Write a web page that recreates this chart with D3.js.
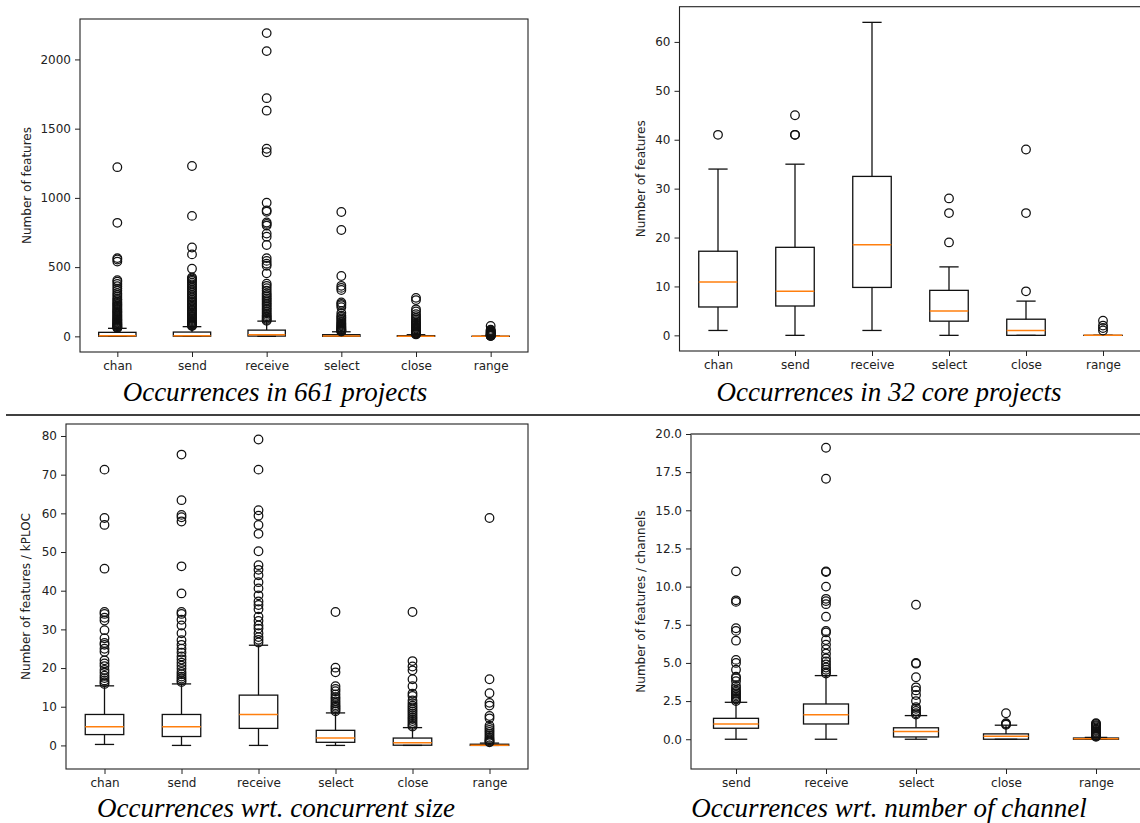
<!DOCTYPE html>
<html><head><meta charset="utf-8">
<script src="https://cdn.jsdelivr.net/npm/d3@7"></script>
<style>body{margin:0;background:#fff}</style>
</head><body><svg id="c" width="1140" height="823"></svg>
<script>
// ---------- DATA ----------
// Panel A: Occurrences in 661 projects
const catsA = ["chan","send","receive","select","close","range"];
const q1A  = [1, 1, 2, 0, 0, 0];
const medA = [5, 5, 12, 2, 0, 0];
const q3A  = [29, 31, 45, 12, 5, 1];
const loA  = [0, 0, 0, 0, 0, 0];
const hiA  = [58, 70, 110, 33, 12, 2];
const outA = [
  [1222, 820, 565, 555, 540, 405, 395, 378, 362, 345, 330, 312, 298, 284, 270, 262, 250, 241, 232, 224, 215, 206, 198, 190, 182, 175, 168, 160, 152, 145, 138, 131, 124, 118, 112, 106, 100, 95, 90, 85, 80, 76, 72, 68, 64, 61],
  [1230, 870, 642, 592, 488, 425, 418, 410, 400, 388, 375, 362, 350, 338, 325, 312, 300, 288, 276, 265, 254, 243, 232, 222, 212, 202, 192, 183, 174, 165, 156, 148, 140, 132, 125, 118, 111, 105, 99, 93, 88, 83, 78, 74],
  [2190, 2060, 1720, 1630, 1355, 1330, 965, 910, 900, 822, 812, 800, 742, 720, 660, 565, 545, 525, 510, 455, 380, 365, 348, 330, 312, 298, 286, 274, 262, 250, 238, 226, 214, 202, 190, 178, 166, 155, 145, 136, 127, 119, 113],
  [898, 768, 436, 365, 350, 335, 245, 235, 225, 210, 168, 150, 140, 130, 120, 110, 100, 92, 85, 78, 72, 66, 60, 55, 50, 46, 42, 38, 35],
  [278, 262, 195, 180, 160, 145, 132, 120, 110, 100, 92, 85, 78, 70, 63, 56, 50, 44, 38, 33, 28, 24, 20, 17, 14],
  [75, 48, 42, 38, 34, 30, 26, 22, 19, 16, 13, 10, 8, 6, 5, 4, 3]
];
const ticksA = [0, 500, 1000, 1500, 2000];

// Panel B: Occurrences in 32 core projects
const catsB = ["chan","send","receive","select","close","range"];
const q1B  = [5.8, 6, 9.8, 2.9, 0, 0];
const medB = [10.9, 9, 18.5, 5, 1, 0];
const q3B  = [17.2, 18, 32.5, 9.2, 3.3, 0];
const loB  = [1, 0, 1, 0, 0, 0];
const hiB  = [34, 35, 64, 14, 7, 0];
const outB = [[41], [45, 41, 41], [], [28, 25, 19], [38, 25, 9], [3, 2, 1.5, 1]];
const ticksB = [0, 10, 20, 30, 40, 50, 60];

// Panel C: Occurrences wrt. concurrent size
const catsC = ["chan","send","receive","select","close","range"];
const q1C  = [2.8, 2.3, 4.4, 0.8, 0.05, 0];
const medC = [4.8, 4.8, 8.0, 1.9, 0.7, 0.05];
const q3C  = [8.0, 8.0, 13.0, 3.9, 1.9, 0.3];
const loC  = [0.25, 0, 0, 0, 0, 0];
const hiC  = [15.4, 15.9, 25.9, 8.4, 4.6, 0.6];
const outC = [
  [71.3, 58.8, 57.0, 45.7, 34.5, 34.0, 33.0, 32.3, 29.8, 27.7, 26.5, 26.0, 25.0, 24.2, 22.0, 21.2, 20.5, 19.5, 18.8, 18.0, 17.4, 16.8, 16.3, 15.9],
  [75.2, 63.4, 59.6, 59.0, 57.9, 46.3, 39.3, 34.5, 34.0, 32.5, 31.0, 29.0, 27.2, 26.0, 25.0, 24.0, 23.0, 22.2, 21.4, 20.6, 19.8, 19.0, 18.4, 17.8, 17.3, 16.8, 16.4],
  [79.1, 71.3, 60.8, 59.4, 57.0, 54.7, 50.2, 46.6, 45.4, 44.0, 42.2, 40.6, 38.8, 37.2, 36.3, 35.2, 33.3, 32.2, 31.0, 30.2, 29.0, 28.0, 27.3, 26.6],
  [34.5, 20.1, 18.9, 15.3, 14.6, 14.0, 13.2, 12.5, 12.0, 11.4, 10.9, 10.4, 10.0, 9.6, 9.2, 8.8],
  [34.5, 21.8, 20.4, 19.4, 17.1, 15.3, 13.4, 12.8, 11.6, 10.9, 10.3, 9.8, 9.3, 8.8, 8.3, 7.8, 7.3, 6.8, 6.3, 5.8, 5.3, 4.9],
  [58.8, 17.1, 13.5, 11.0, 10.3, 7.6, 7.0, 5.1, 4.5, 4.0, 3.5, 3.0, 2.5, 2.0, 1.6, 1.3, 1.0, 0.8]
];
const ticksC = [0, 10, 20, 30, 40, 50, 60, 70, 80];

// Panel D: Occurrences wrt. number of channel
const catsD = ["send","receive","select","close","range"];
const q1D  = [0.72, 1.0, 0.15, 0.0, 0.0];
const medD = [1.0, 1.6, 0.5, 0.2, 0.03];
const q3D  = [1.37, 2.31, 0.75, 0.35, 0.08];
const loD  = [0, 0, 0, 0, 0];
const hiD  = [2.42, 4.17, 1.55, 0.92, 0.12];
const outD = [
  [11.0, 9.1, 9.0, 7.27, 7.1, 6.46, 5.2, 5.0, 4.55, 4.1, 4.0, 3.8, 3.5, 3.35, 3.2, 3.1, 3.0, 2.9, 2.8, 2.7, 2.6, 2.5],
  [19.1, 17.07, 11.0, 10.95, 10.0, 9.2, 9.05, 8.85, 8.03, 7.1, 7.0, 6.5, 6.2, 5.9, 5.6, 5.3, 5.1, 4.9, 4.7, 4.55, 4.4, 4.3],
  [8.81, 5.0, 4.95, 4.06, 3.4, 3.2, 2.9, 2.5, 2.1, 2.0, 1.85, 1.7, 1.62],
  [1.7, 1.05, 1.0, 0.95],
  [1.05, 1.0, 0.92, 0.85, 0.78, 0.7, 0.62, 0.55, 0.48, 0.42, 0.36, 0.3, 0.25, 0.2, 0.16]
];
const ticksD = [0, 2.5, 5, 7.5, 10, 12.5, 15, 17.5, 20];

// ---------- DRAW ----------
const svg = d3.select("#c");

function panel(o) {
  const n = o.cats.length;
  const x = d3.scaleLinear().domain([0.5, n + 0.5]).range([o.l, o.r]);
  const y = d3.scaleLinear().domain(o.dom).range([o.b, o.t]);
  const g = svg.append("g");
  const idx = d3.range(n);
  const bw = x(1.25) - x(0.75);
  const cw = x(1.125) - x(0.875);

  // boxes
  g.selectAll(".box").data(idx).join("rect")
    .attr("x", i => x(i + 1) - bw / 2).attr("width", bw)
    .attr("y", i => y(o.q3[i])).attr("height", i => Math.max(0.01, y(o.q1[i]) - y(o.q3[i])))
    .attr("fill", "none").attr("stroke", "#111").attr("stroke-width", 1.3);
  // whiskers
  g.selectAll(".wlo").data(idx).join("line")
    .attr("x1", i => x(i + 1)).attr("x2", i => x(i + 1))
    .attr("y1", i => y(o.q1[i])).attr("y2", i => y(o.lo[i]))
    .attr("stroke", "#111").attr("stroke-width", 1.3);
  g.selectAll(".whi").data(idx).join("line")
    .attr("x1", i => x(i + 1)).attr("x2", i => x(i + 1))
    .attr("y1", i => y(o.q3[i])).attr("y2", i => y(o.hi[i]))
    .attr("stroke", "#111").attr("stroke-width", 1.3);
  // caps
  ["lo", "hi"].forEach(k => {
    g.selectAll(".cap" + k).data(idx).join("line")
      .attr("x1", i => x(i + 1) - cw / 2).attr("x2", i => x(i + 1) + cw / 2)
      .attr("y1", i => y(o[k][i])).attr("y2", i => y(o[k][i]))
      .attr("stroke", "#111").attr("stroke-width", 1.3);
  });
  // medians
  g.selectAll(".med").data(idx).join("line")
    .attr("x1", i => x(i + 1) - bw / 2).attr("x2", i => x(i + 1) + bw / 2)
    .attr("y1", i => y(o.med[i])).attr("y2", i => y(o.med[i]))
    .attr("stroke", "#ff7f0e").attr("stroke-width", 1.5);
  // outliers
  const pts = [];
  o.out.forEach((arr, i) => arr.forEach(v => pts.push([i, v])));
  g.selectAll(".fl").data(pts).join("circle")
    .attr("cx", d => x(d[0] + 1)).attr("cy", d => y(d[1])).attr("r", 4.3)
    .attr("fill", "none").attr("stroke", "#111").attr("stroke-width", 1.25);

  // frame
  g.append("rect").attr("x", o.l).attr("y", o.t).attr("width", o.r - o.l).attr("height", o.b - o.t)
    .attr("fill", "none").attr("stroke", "#222").attr("stroke-width", 1.1);
  if (o.topGray) {
    g.append("line").attr("x1", o.l).attr("x2", o.r).attr("y1", o.t).attr("y2", o.t)
      .attr("stroke", "#777").attr("stroke-width", 1.6);
  }

  // axes
  const ya = g.append("g").attr("transform", `translate(${o.l},0)`)
    .call(d3.axisLeft(y).tickValues(o.ticks).tickFormat(o.fmt).tickSize(5).tickSizeOuter(0).tickPadding(4));
  const xa = g.append("g").attr("transform", `translate(0,${o.b})`)
    .call(d3.axisBottom(x).tickValues(d3.range(1, n + 1)).tickFormat(i => o.cats[i - 1]).tickSize(5).tickSizeOuter(0).tickPadding(4));
  [ya, xa].forEach(a => {
    a.select(".domain").remove();
    a.selectAll("line").attr("stroke", "#222");
    a.selectAll("text").attr("font-family", "DejaVu Sans").attr("font-size", 12).attr("fill", "#222");
  });

  // y label
  g.append("text").attr("transform", `translate(${o.lx},${(o.t + o.b) / 2}) rotate(-90)`)
    .attr("text-anchor", "middle").attr("dy", "0.35em")
    .attr("font-family", "DejaVu Sans").attr("font-size", 12).attr("fill", "#222")
    .text(o.ylabel);

  // caption
  g.append("text").attr("x", o.tx).attr("y", o.ty).attr("text-anchor", "middle")
    .attr("font-family", "Liberation Serif").attr("font-style", "italic").attr("font-size", 27)
    .attr("fill", "#000").text(o.title);
}

panel({cats: catsA, q1: q1A, med: medA, q3: q3A, lo: loA, hi: hiA, out: outA, ticks: ticksA,
  fmt: d3.format("d"), dom: [-113, 2292], l: 80, r: 528, t: 19, b: 352,
  lx: 27, ylabel: "Number of features", tx: 275, ty: 401, title: "Occurrences in 661 projects"});
panel({cats: catsB, q1: q1B, med: medB, q3: q3B, lo: loB, hi: hiB, out: outB, ticks: ticksB,
  fmt: d3.format("d"), dom: [-3.2, 67.2], l: 679.5, r: 1141.5, t: 6.7, b: 351,
  lx: 641, ylabel: "Number of features", tx: 889, ty: 401, title: "Occurrences in 32 core projects"});
panel({cats: catsC, q1: q1C, med: medC, q3: q3C, lo: loC, hi: hiC, out: outC, ticks: ticksC,
  fmt: d3.format("d"), dom: [-6.1, 83.1], l: 66, r: 528, t: 424, b: 769,
  lx: 26, ylabel: "Number of features / kPLOC", tx: 276, ty: 817, title: "Occurrences wrt. concurrent size"});
panel({cats: catsD, q1: q1D, med: medD, q3: q3D, lo: loD, hi: hiD, out: outD, ticks: ticksD,
  fmt: d3.format(".1f"), dom: [-1.95, 20], l: 691, r: 1141, t: 434, b: 769, topGray: true,
  lx: 641, ylabel: "Number of features / channels", tx: 889, ty: 817, title: "Occurrences wrt. number of channel"});

// separator rule
svg.append("line").attr("x1", 6).attr("x2", 1140).attr("y1", 415).attr("y2", 415)
  .attr("stroke", "#000").attr("stroke-width", 1.5);
</script>
</body></html>
